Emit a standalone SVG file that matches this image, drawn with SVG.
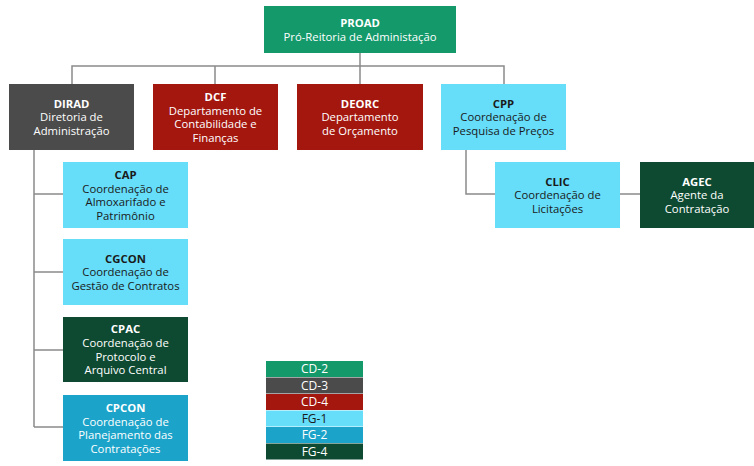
<svg xmlns="http://www.w3.org/2000/svg" width="754" height="466" viewBox="0 0 754 466">
<style>
text{font-family:"Open Sans","Noto Sans","Liberation Sans",sans-serif;font-size:11.3px;text-anchor:middle}
.b{font-weight:bold}
.w{fill:#ffffff}
.k{fill:#1a1a1a}
.lg{font-size:12px}
.cd2{fill:#13996a}
.cd3{fill:#4b4b4b}
.cd4{fill:#a3170f}
.fg1{fill:#66ddf9}
.fg2{fill:#1ba3c9}
.fg4{fill:#0e4a31}
.ln{fill:none;stroke:#8a8a8a;stroke-width:1.5}
</style>
<rect width="754" height="466" fill="#ffffff"/>
<g id="connectors" class="ln">
<path d="M360 53V84"/>
<path d="M72 84V66H504V84"/>
<path d="M215 66V84"/>
<path d="M34 150V427"/>
<path d="M34 194H63M34 272H63M34 350H63M34 427H63"/>
<path d="M466 150V194H495"/>
<path d="M620 194H640"/>
</g>
<g id="PROAD"><rect class="cd2" x="264" y="6" width="192" height="47"/>
<text class="w b" x="360" y="27">PROAD</text><text class="w" x="360" y="40.5">Pró-Reitoria de Administação</text></g>
<g id="DIRAD"><rect class="cd3" x="9" y="84" width="125" height="66"/>
<text class="w b" x="71.5" y="107.5">DIRAD</text><text class="w" x="71.5" y="121.2">Diretoria de</text><text class="w" x="71.5" y="134.9">Administração</text></g>
<g id="DCF"><rect class="cd4" x="153" y="84" width="125" height="66"/>
<text class="w b" x="215.5" y="100.8">DCF</text><text class="w" x="215.5" y="114.5">Departamento de</text><text class="w" x="215.5" y="128.2">Contabilidade e</text><text class="w" x="215.5" y="141.9">Finanças</text></g>
<g id="DEORC"><rect class="cd4" x="297" y="84" width="126" height="66"/>
<text class="w b" x="360" y="107.5">DEORC</text><text class="w" x="360" y="121.2">Departamento</text><text class="w" x="360" y="134.9">de Orçamento</text></g>
<g id="CPP"><rect class="fg1" x="441" y="84" width="125" height="66"/>
<text class="k b" x="503.5" y="107.5">CPP</text><text class="k" x="503.5" y="121.2">Coordenação de</text><text class="k" x="503.5" y="134.9">Pesquisa de Preços</text></g>
<g id="CLIC"><rect class="fg1" x="495" y="162" width="125" height="66"/>
<text class="k b" x="557.5" y="185.5">CLIC</text><text class="k" x="557.5" y="199.2">Coordenação de</text><text class="k" x="557.5" y="212.9">Licitações</text></g>
<g id="AGEC"><rect class="fg4" x="640" y="162" width="114" height="66"/>
<text class="w b" x="697" y="185.5">AGEC</text><text class="w" x="697" y="199.2">Agente da</text><text class="w" x="697" y="212.9">Contratação</text></g>
<g id="CAP"><rect class="fg1" x="63" y="162" width="125" height="66"/>
<text class="k b" x="125.5" y="178.8">CAP</text><text class="k" x="125.5" y="192.5">Coordenação de</text><text class="k" x="125.5" y="206.2">Almoxarifado e</text><text class="k" x="125.5" y="219.9">Patrimônio</text></g>
<g id="CGCON"><rect class="fg1" x="63" y="239" width="125" height="66"/>
<text class="k b" x="125.5" y="262.5">CGCON</text><text class="k" x="125.5" y="276.2">Coordenação de</text><text class="k" x="125.5" y="289.9">Gestão de Contratos</text></g>
<g id="CPAC"><rect class="fg4" x="63" y="317" width="125" height="65"/>
<text class="w b" x="125.5" y="333.3">CPAC</text><text class="w" x="125.5" y="347">Coordenação de</text><text class="w" x="125.5" y="360.7">Protocolo e</text><text class="w" x="125.5" y="374.4">Arquivo Central</text></g>
<g id="CPCON"><rect class="fg2" x="63" y="395" width="125" height="66"/>
<text class="w b" x="125.5" y="411.8">CPCON</text><text class="w" x="125.5" y="425.5">Coordenação de</text><text class="w" x="125.5" y="439.2">Planejamento das</text><text class="w" x="125.5" y="452.9">Contratações</text></g>
<g id="legend">
<rect class="cd2" x="266" y="361" width="97" height="16"/>
<rect class="cd3" x="266" y="377.5" width="97" height="16"/>
<rect class="cd4" x="266" y="394" width="97" height="16"/>
<rect class="fg1" x="266" y="410.5" width="97" height="16"/>
<rect class="fg2" x="266" y="427" width="97" height="16"/>
<rect class="fg4" x="266" y="443.5" width="97" height="16"/>
<text class="w lg" x="314.5" y="373.3">CD-2</text>
<text class="w lg" x="314.5" y="389.8">CD-3</text>
<text class="w lg" x="314.5" y="406.3">CD-4</text>
<text class="k lg" x="314.5" y="422.8">FG-1</text>
<text class="w lg" x="314.5" y="439.3">FG-2</text>
<text class="w lg" x="314.5" y="455.8">FG-4</text>
</g>
</svg>
